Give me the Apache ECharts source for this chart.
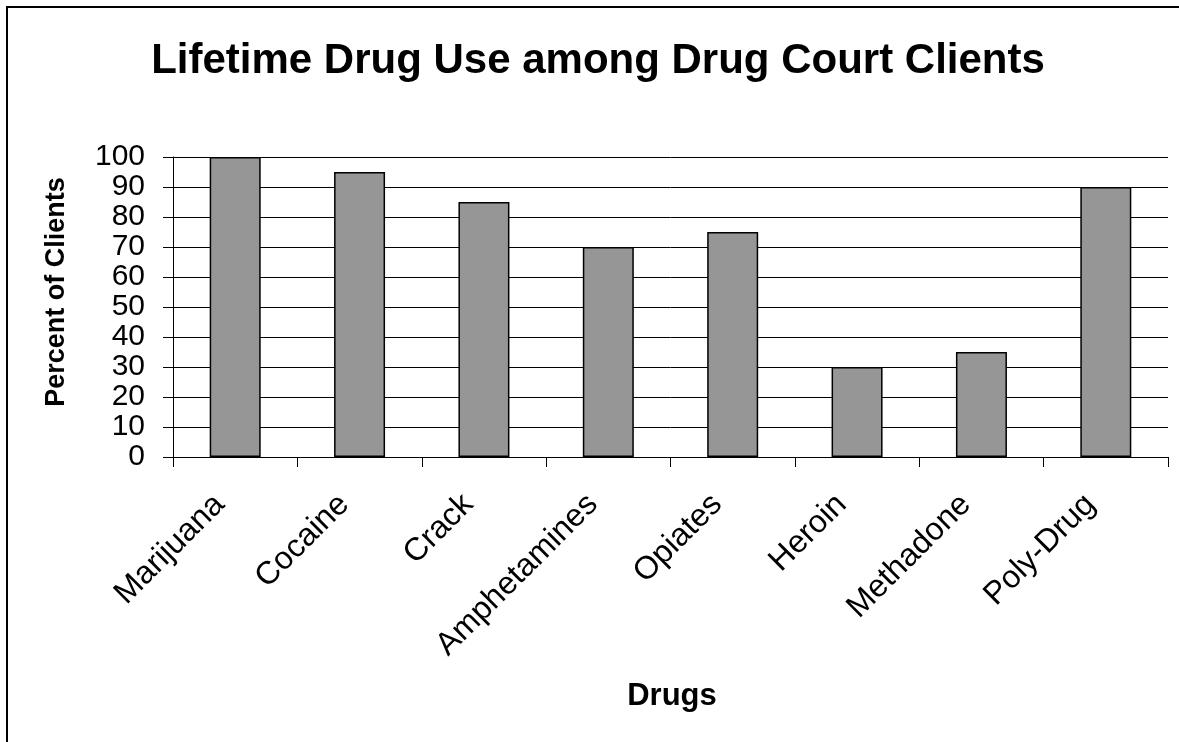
<!DOCTYPE html>
<html>
<head>
<meta charset="utf-8">
<script src="https://cdn.jsdelivr.net/npm/echarts@6/dist/echarts.min.js"></script>
<style>
  html, body { margin: 0; padding: 0; background: #fff; }
  #chart { width: 1179px; height: 742px; }
</style>
</head>
<body>
<div id="chart"></div>
<script>
// Drug categories and share of clients reporting lifetime use (%)
const drugs = ['Marijuana', 'Cocaine', 'Crack', 'Amphetamines', 'Opiates', 'Heroin', 'Methadone', 'Poly-Drug'];
const percentClients = [100, 95, 85, 70, 75, 30, 35, 90];
const yTicks = { min: 0, max: 100, interval: 10 };

const FONT = '"Liberation Sans", Arial, Helvetica, sans-serif';

const chart = echarts.init(document.getElementById('chart'), null, { renderer: 'canvas' });

chart.setOption({
  animation: false,
  backgroundColor: '#ffffff',
  grid: { left: 173, right: 11, top: 157, bottom: 285, containLabel: false },
  graphic: [
    {
      type: 'rect',
      shape: { x: 7, y: 7, width: 1200, height: 800 },
      style: { fill: 'none', stroke: '#000', lineWidth: 2 },
      silent: true
    },
    {
      type: 'text',
      x: 598,
      y: 61,
      style: {
        text: 'Lifetime Drug Use among Drug Court Clients',
        font: 'bold 42px ' + FONT,
        fill: '#000',
        align: 'center',
        verticalAlign: 'middle'
      }
    },
    {
      type: 'text',
      x: 57,
      y: 292,
      rotation: Math.PI / 2,
      style: {
        text: 'Percent of Clients',
        font: 'bold 27px ' + FONT,
        fill: '#000',
        align: 'center',
        verticalAlign: 'middle'
      }
    },
    {
      type: 'text',
      x: 672,
      y: 696,
      style: {
        text: 'Drugs',
        font: 'bold 31px ' + FONT,
        fill: '#000',
        align: 'center',
        verticalAlign: 'middle'
      }
    }
  ],
  xAxis: {
    type: 'category',
    data: drugs,
    boundaryGap: true,
    axisLine: { show: true, lineStyle: { color: '#000', width: 1 } },
    axisTick: { show: true, length: 10, alignWithLabel: false, lineStyle: { color: '#000', width: 1 } },
    axisLabel: {
      rotate: 45,
      margin: 27,
      interval: 0,
      padding: [0, 22, 0, 0],
      color: '#000',
      fontFamily: FONT,
      fontSize: 32
    },
    splitLine: { show: false }
  },
  yAxis: {
    type: 'value',
    min: yTicks.min,
    max: yTicks.max,
    interval: yTicks.interval,
    axisLine: { show: true, lineStyle: { color: '#000', width: 1 } },
    axisTick: { show: true, length: 10, lineStyle: { color: '#000', width: 1 } },
    axisLabel: {
      margin: 28,
      color: '#000',
      fontFamily: FONT,
      fontSize: 30
    },
    splitLine: { show: true, lineStyle: { color: '#000', width: 1 } }
  },
  series: [
    {
      type: 'bar',
      data: percentClients,
      barWidth: 51,
      itemStyle: {
        color: '#969696',
        borderColor: '#000',
        borderWidth: 1.5
      }
    }
  ]
});
</script>
</body>
</html>
